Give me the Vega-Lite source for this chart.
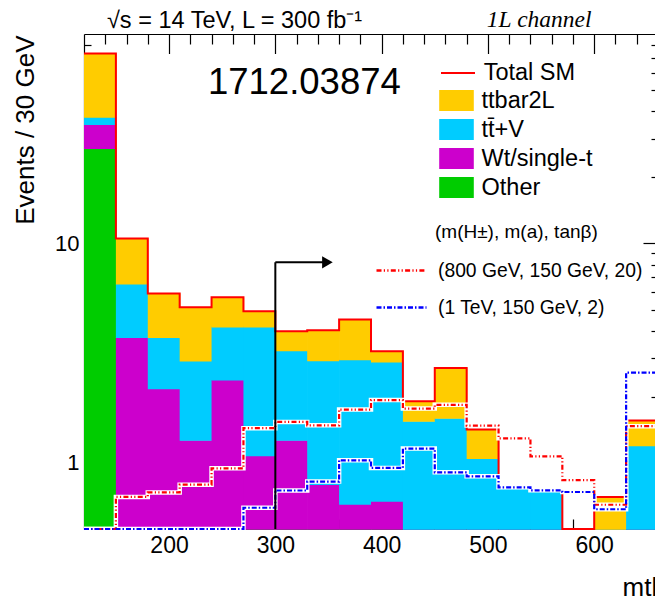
{
  "$schema": "https://vega.github.io/schema/vega-lite/v6.json",
  "width": 574,
  "height": 495,
  "autosize": {"type": "none"},
  "padding": {"left": 84, "top": 34, "right": 0, "bottom": 68},
  "background": "white",
  "config": {
    "font": "Liberation Sans",
    "view": {"stroke": null},
    "axis": {"grid": false, "zindex": 1, "domainColor": "black", "domainWidth": 1.2, "tickColor": "black", "tickWidth": 1.2, "labelColor": "black", "titleColor": "black", "labelFont": "Liberation Sans", "titleFont": "Liberation Sans", "titleFontWeight": "normal", "labelFlush": false, "labelOverlap": false},
    "legend": {"labelFont": "Liberation Sans", "labelColor": "black", "padding": 0, "offset": 0, "labelLimit": 0}
  },
  "datasets": {
    "bkg": [
      {"lo": 120, "hi": 150, "Other": 27.1, "Wt/single-t": 7.8, "tt̄+V": 2.8, "ttbar2L": 35.6},
      {"lo": 150, "hi": 180, "Other": 0, "Wt/single-t": 3.74, "tt̄+V": 2.81, "ttbar2L": 3.99},
      {"lo": 180, "hi": 210, "Other": 0, "Wt/single-t": 2.18, "tt̄+V": 1.56, "ttbar2L": 2.18},
      {"lo": 210, "hi": 240, "Other": 0, "Wt/single-t": 1.27, "tt̄+V": 1.65, "ttbar2L": 2.2},
      {"lo": 240, "hi": 270, "Other": 0, "Wt/single-t": 2.39, "tt̄+V": 1.78, "ttbar2L": 1.52},
      {"lo": 270, "hi": 300, "Other": 0, "Wt/single-t": 1.08, "tt̄+V": 3.09, "ttbar2L": 0.74},
      {"lo": 300, "hi": 330, "Other": 0, "Wt/single-t": 1.27, "tt̄+V": 1.98, "ttbar2L": 0.73},
      {"lo": 330, "hi": 360, "Other": 0, "Wt/single-t": 0.8, "tt̄+V": 2.13, "ttbar2L": 1.09},
      {"lo": 360, "hi": 390, "Other": 0, "Wt/single-t": 0.65, "tt̄+V": 2.31, "ttbar2L": 1.54},
      {"lo": 390, "hi": 420, "Other": 0, "Wt/single-t": 0.67, "tt̄+V": 2.22, "ttbar2L": 0.34},
      {"lo": 420, "hi": 450, "Other": 0, "Wt/single-t": 0, "tt̄+V": 1.55, "ttbar2L": 0.36},
      {"lo": 450, "hi": 480, "Other": 0, "Wt/single-t": 0, "tt̄+V": 1.6, "ttbar2L": 1.11},
      {"lo": 480, "hi": 510, "Other": 0, "Wt/single-t": 0, "tt̄+V": 1.05, "ttbar2L": 0.37},
      {"lo": 510, "hi": 540, "Other": 0, "Wt/single-t": 0, "tt̄+V": 0.78, "ttbar2L": 0},
      {"lo": 540, "hi": 570, "Other": 0, "Wt/single-t": 0, "tt̄+V": 0.75, "ttbar2L": 0},
      {"lo": 570, "hi": 600, "Other": 0, "Wt/single-t": 0, "tt̄+V": 0, "ttbar2L": 0},
      {"lo": 600, "hi": 630, "Other": 0, "Wt/single-t": 0, "tt̄+V": 0, "ttbar2L": 0.7},
      {"lo": 630, "hi": 660, "Other": 0, "Wt/single-t": 0, "tt̄+V": 1.2, "ttbar2L": 0.36}
    ],
    "sig": [
      {"lo": 120, "hi": 150, "(800 GeV, 150 GeV, 20)": 0, "(1 TeV, 150 GeV, 2)": 0},
      {"lo": 150, "hi": 180, "(800 GeV, 150 GeV, 20)": 0.7, "(1 TeV, 150 GeV, 2)": 0},
      {"lo": 180, "hi": 210, "(800 GeV, 150 GeV, 20)": 0.734, "(1 TeV, 150 GeV, 2)": 0},
      {"lo": 210, "hi": 240, "(800 GeV, 150 GeV, 20)": 0.796, "(1 TeV, 150 GeV, 2)": 0},
      {"lo": 240, "hi": 270, "(800 GeV, 150 GeV, 20)": 0.945, "(1 TeV, 150 GeV, 2)": 0},
      {"lo": 270, "hi": 300, "(800 GeV, 150 GeV, 20)": 1.44, "(1 TeV, 150 GeV, 2)": 0.625},
      {"lo": 300, "hi": 330, "(800 GeV, 150 GeV, 20)": 1.538, "(1 TeV, 150 GeV, 2)": 0.749},
      {"lo": 330, "hi": 360, "(800 GeV, 150 GeV, 20)": 1.484, "(1 TeV, 150 GeV, 2)": 0.822},
      {"lo": 360, "hi": 390, "(800 GeV, 150 GeV, 20)": 1.75, "(1 TeV, 150 GeV, 2)": 1.028},
      {"lo": 390, "hi": 420, "(800 GeV, 150 GeV, 20)": 1.934, "(1 TeV, 150 GeV, 2)": 0.949},
      {"lo": 420, "hi": 450, "(800 GeV, 150 GeV, 20)": 1.768, "(1 TeV, 150 GeV, 2)": 1.162},
      {"lo": 450, "hi": 480, "(800 GeV, 150 GeV, 20)": 1.839, "(1 TeV, 150 GeV, 2)": 0.906},
      {"lo": 480, "hi": 510, "(800 GeV, 150 GeV, 20)": 1.479, "(1 TeV, 150 GeV, 2)": 0.869},
      {"lo": 510, "hi": 540, "(800 GeV, 150 GeV, 20)": 1.295, "(1 TeV, 150 GeV, 2)": 0.774},
      {"lo": 540, "hi": 570, "(800 GeV, 150 GeV, 20)": 1.072, "(1 TeV, 150 GeV, 2)": 0.75},
      {"lo": 570, "hi": 600, "(800 GeV, 150 GeV, 20)": 0.835, "(1 TeV, 150 GeV, 2)": 0.737},
      {"lo": 600, "hi": 630, "(800 GeV, 150 GeV, 20)": 0.645, "(1 TeV, 150 GeV, 2)": 0.615},
      {"lo": 630, "hi": 660, "(800 GeV, 150 GeV, 20)": 1.47, "(1 TeV, 150 GeV, 2)": 2.58}
    ],
    "arrow": [
      {"x": 300, "x2": 300, "y": 0.5, "y2": 8.2},
      {"x": 300, "x2": 345, "y": 8.2, "y2": 8.2}
    ]
  },
  "layer": [
    {
      "data": {"name": "bkg"},
      "transform": [
        {"fold": ["Other", "Wt/single-t", "tt̄+V", "ttbar2L"], "as": ["process", "value"]},
        {"stack": "value", "groupby": ["lo"], "as": ["v0", "v1"]}
      ],
      "mark": {"type": "rect", "invalid": null, "x2Offset": 0.7, "y2Offset": 0.7},
      "encoding": {
        "x": {"field": "lo", "type": "quantitative", "scale": {"domain": [120, 660], "nice": false, "zero": false},
          "axis": {"orient": "bottom", "values": [200, 300, 400, 500, 600], "tickSize": -19.5, "labelFontSize": 23, "labelPadding": 25, "format": "d", "domain": true,
            "title": "mtb", "titleFontSize": 26, "titleX": 538, "titleY": 66, "titleAlign": "left", "titleAnchor": null, "titleBaseline": "alphabetic", "titleAngle": 0}},
        "x2": {"field": "hi"},
        "y": {"field": "v1", "type": "quantitative", "scale": {"type": "log", "domain": [0.5, 90], "clamp": true, "nice": false},
          "axis": {"orient": "left", "values": [1, 10], "tickSize": -15, "labelFontSize": 22, "labelPadding": 20, "format": "d", "domain": true,
            "title": "Events / 30 GeV", "titleFontSize": 26, "titleAngle": -90, "titleX": -51, "titleY": 1, "titleAlign": "right", "titleAnchor": null, "titleBaseline": "alphabetic"}},
        "y2": {"field": "v0"},
        "fill": {"field": "process", "type": "nominal",
          "scale": {"domain": ["ttbar2L", "tt̄+V", "Wt/single-t", "Other"], "range": ["#ffcc00", "#00ccff", "#cc00cc", "#00cc00"]},
          "legend": {"orient": "none", "legendX": 355, "legendY": 49, "title": null, "symbolType": "M-1,-0.6H1V0.6H-1Z", "symbolSize": 1197, "symbolStrokeWidth": 0, "symbolOpacity": 1, "labelFontSize": 23.5, "labelOffset": 7.5, "rowPadding": -0.7}}
      }
    },
    {
      "data": {"name": "bkg"},
      "transform": [
        {"fold": ["Other", "Wt/single-t", "tt̄+V", "ttbar2L"], "as": ["process", "value"]},
        {"aggregate": [{"op": "sum", "field": "value", "as": "total"}], "groupby": ["lo", "hi"]},
        {"fold": ["lo", "hi"], "as": ["edge", "xpos"]}
      ],
      "mark": {"type": "line", "strokeWidth": 2, "invalid": null},
      "encoding": {
        "x": {"field": "xpos", "type": "quantitative", "scale": {"domain": [120, 660], "nice": false, "zero": false},
          "axis": {"orient": "bottom", "values": [140, 160, 180, 220, 240, 260, 280, 320, 340, 360, 380, 420, 440, 460, 480, 520, 540, 560, 580, 620, 640], "tickSize": -10, "labels": false, "domain": false, "title": null}},
        "y": {"field": "total", "type": "quantitative", "scale": {"type": "log", "domain": [0.5, 90], "clamp": true, "nice": false},
          "axis": {"orient": "left", "values": [0.6, 0.7, 0.8, 0.9, 2, 3, 4, 5, 6, 7, 8, 9, 20, 30, 40, 50, 60, 70, 80], "tickSize": -7, "labels": false, "domain": false, "title": null}},
        "order": [{"field": "xpos", "type": "quantitative"}, {"field": "edge", "type": "nominal"}],
        "color": {"datum": "Total SM", "type": "nominal", "scale": {"domain": ["Total SM"], "range": ["#ff0000"]},
          "legend": {"orient": "none", "legendX": 356, "legendY": 21, "title": null, "symbolType": "stroke", "symbolSize": 1156, "symbolStrokeWidth": 2, "labelFontSize": 23.5, "labelOffset": 7.7}}
      }
    },
    {
      "data": {"name": "sig"},
      "transform": [
        {"fold": ["(800 GeV, 150 GeV, 20)", "(1 TeV, 150 GeV, 2)"], "as": ["signal", "value"]},
        {"fold": ["lo", "hi"], "as": ["edge", "xpos"]}
      ],
      "mark": {"type": "line", "strokeWidth": 4.5, "color": "white", "invalid": null},
      "encoding": {
        "x": {"field": "xpos", "type": "quantitative", "scale": {"domain": [120, 660], "nice": false, "zero": false},
          "axis": {"orient": "top", "values": [200, 300, 400, 500, 600], "tickSize": -19.5, "labels": false, "domain": true, "title": null}},
        "y": {"field": "value", "type": "quantitative", "scale": {"type": "log", "domain": [0.5, 90], "clamp": true, "nice": false},
          "axis": {"orient": "right", "values": [1, 10], "tickSize": -15, "labels": false, "domain": true, "title": null}},
        "detail": {"field": "signal", "type": "nominal"},
        "order": [{"field": "xpos", "type": "quantitative"}, {"field": "edge", "type": "nominal"}]
      }
    },
    {
      "data": {"name": "sig"},
      "transform": [
        {"fold": ["(800 GeV, 150 GeV, 20)", "(1 TeV, 150 GeV, 2)"], "as": ["signal", "value"]},
        {"fold": ["lo", "hi"], "as": ["edge", "xpos"]}
      ],
      "mark": {"type": "line", "strokeWidth": 2.2, "invalid": null},
      "encoding": {
        "x": {"field": "xpos", "type": "quantitative", "scale": {"domain": [120, 660], "nice": false, "zero": false},
          "axis": {"orient": "top", "values": [140, 160, 180, 220, 240, 260, 280, 320, 340, 360, 380, 420, 440, 460, 480, 520, 540, 560, 580, 620, 640], "tickSize": -10, "labels": false, "domain": false, "title": null}},
        "y": {"field": "value", "type": "quantitative", "scale": {"type": "log", "domain": [0.5, 90], "clamp": true, "nice": false},
          "axis": {"orient": "right", "values": [0.6, 0.7, 0.8, 0.9, 2, 3, 4, 5, 6, 7, 8, 9, 20, 30, 40, 50, 60, 70, 80], "tickSize": -7, "labels": false, "domain": false, "title": null}},
        "order": [{"field": "xpos", "type": "quantitative"}, {"field": "edge", "type": "nominal"}],
        "stroke": {"field": "signal", "type": "nominal",
          "scale": {"domain": ["(800 GeV, 150 GeV, 20)", "(1 TeV, 150 GeV, 2)"], "range": ["#ff0000", "#0000ff"]},
          "legend": {"orient": "none", "legendX": 291, "legendY": 210, "title": null, "symbolType": "stroke", "symbolSize": 2500, "symbolStrokeWidth": 2.5, "labelFontSize": 19.3, "labelOffset": 10, "rowPadding": -0.4}},
        "strokeDash": {"field": "signal", "type": "nominal",
          "scale": {"domain": ["(800 GeV, 150 GeV, 20)", "(1 TeV, 150 GeV, 2)"], "range": [[5, 2.3, 1.2, 2.3, 1.2, 2.3], [5, 2, 1.5, 2]]},
          "legend": {"orient": "none", "legendX": 291, "legendY": 210, "title": null, "symbolType": "stroke", "symbolSize": 2500, "symbolStrokeWidth": 2.5, "labelFontSize": 19.3, "labelOffset": 10, "rowPadding": -0.4}}
      }
    },
    {
      "data": {"name": "arrow"},
      "mark": {"type": "rule", "color": "black", "strokeWidth": 2},
      "encoding": {
        "x": {"field": "x", "type": "quantitative", "scale": {"domain": [120, 660], "nice": false, "zero": false}, "axis": null},
        "x2": {"field": "x2"},
        "y": {"field": "y", "type": "quantitative", "scale": {"type": "log", "domain": [0.5, 90], "clamp": true, "nice": false}, "axis": null},
        "y2": {"field": "y2"}
      }
    },
    {
      "data": {"values": [{}]},
      "mark": {"type": "point", "shape": "triangle-right", "filled": true, "color": "black", "opacity": 1, "size": 150},
      "encoding": {
        "x": {"datum": 349, "type": "quantitative", "axis": null},
        "y": {"datum": 8.2, "type": "quantitative", "axis": null}
      }
    },
    {
      "data": {"values": [{}]},
      "mark": {"type": "text", "text": "1712.03874", "align": "left", "baseline": "alphabetic", "fontSize": 36.5, "font": "Liberation Sans", "color": "black"},
      "encoding": {
        "x": {"datum": 236.6, "type": "quantitative", "axis": null},
        "y": {"datum": 47.8, "type": "quantitative", "axis": null}
      }
    },
    {
      "data": {"values": [{}]},
      "mark": {"type": "text", "text": "√s = 14 TeV, L = 300 fb⁻¹", "align": "left", "baseline": "alphabetic", "fontSize": 23.5, "font": "Liberation Sans", "color": "black", "dy": -5.7},
      "encoding": {
        "x": {"datum": 141.6, "type": "quantitative", "axis": null},
        "y": {"datum": 90, "type": "quantitative", "axis": null}
      }
    },
    {
      "data": {"values": [{}]},
      "mark": {"type": "text", "text": "1L channel", "align": "left", "baseline": "alphabetic", "fontSize": 23.5, "font": "Liberation Serif", "fontStyle": "italic", "color": "black", "dy": -7.3},
      "encoding": {
        "x": {"datum": 499, "type": "quantitative", "axis": null},
        "y": {"datum": 90, "type": "quantitative", "axis": null}
      }
    },
    {
      "data": {"values": [{}]},
      "mark": {"type": "text", "text": "(m(H±), m(a), tanβ)", "align": "left", "baseline": "middle", "fontSize": 19, "font": "Liberation Sans", "color": "black"},
      "encoding": {
        "x": {"datum": 450.2, "type": "quantitative", "axis": null},
        "y": {"datum": 11.22, "type": "quantitative", "axis": null}
      }
    }
  ],
  "resolve": {"axis": {"x": "independent", "y": "independent"}}
}
